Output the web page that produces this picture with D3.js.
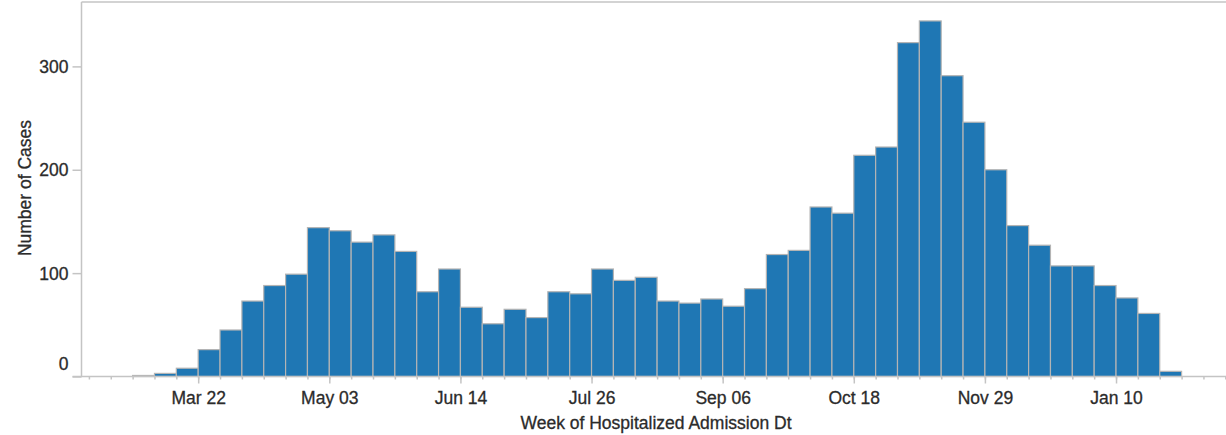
<!DOCTYPE html>
<html lang="en">
<head>
    <meta charset="UTF-8">
    <title>Weekly Hospitalized Cases</title>
    <style>
        body {
            margin: 0;
            padding: 0;
            background: #fff;
            font-family: "Liberation Sans", Arial, sans-serif;
        }
        #chart text {
            fill: #2b2b2b;
            stroke: #2b2b2b;
            stroke-width: 0.3px;
        }
    </style>
    <script src="https://d3js.org/d3.v7.min.js"></script>
</head>
<body>
<svg id="chart" width="1226" height="435"></svg>

<script>
    // week start dates (Sundays) and number of cases
    const weeks = [
        '2020-03-01', '2020-03-08', '2020-03-15', '2020-03-22', '2020-03-29',
        '2020-04-05', '2020-04-12', '2020-04-19', '2020-04-26', '2020-05-03',
        '2020-05-10', '2020-05-17', '2020-05-24', '2020-05-31', '2020-06-07',
        '2020-06-14', '2020-06-21', '2020-06-28', '2020-07-05', '2020-07-12',
        '2020-07-19', '2020-07-26', '2020-08-02', '2020-08-09', '2020-08-16',
        '2020-08-23', '2020-08-30', '2020-09-06', '2020-09-13', '2020-09-20',
        '2020-09-27', '2020-10-04', '2020-10-11', '2020-10-18', '2020-10-25',
        '2020-11-01', '2020-11-08', '2020-11-15', '2020-11-22', '2020-11-29',
        '2020-12-06', '2020-12-13', '2020-12-20', '2020-12-27', '2021-01-03',
        '2021-01-10', '2021-01-17', '2021-01-24'
    ];
    const cases = [
        1, 3, 8, 26, 45,
        73, 88, 99, 144, 141,
        130, 137, 121, 82, 104,
        67, 51, 65, 57, 82,
        80, 104, 93, 96, 73,
        71, 75, 68, 85, 118,
        122, 164, 158, 214, 222,
        323, 344, 291, 246, 200,
        146, 127, 107, 107, 88,
        76, 61, 5
    ];
    const labelTicks = ['2020-03-22', '2020-05-03', '2020-06-14', '2020-07-26', '2020-09-06',
                        '2020-10-18', '2020-11-29', '2021-01-10'];
    const yTicks = [0, 100, 200, 300];

    const parse = d3.utcParse('%Y-%m-%d');
    const data = weeks.map((w, i) => ({ week: parse(w), value: cases[i] }));

    const plotLeft = 81.5, plotRight = 1226, plotTop = 2, plotBottom = 376.5;
    const fontSize = 17.5;

    const xStart = new Date(Date.UTC(2020, 1, 13, 15));
    const xEnd = new Date(xStart.getTime() + 366.6 * 864e5);
    const x = d3.scaleUtc().domain([xStart, xEnd]).range([plotLeft, plotRight]);
    const y = d3.scaleLinear().domain([0, 362.3]).range([plotBottom, plotTop]);

    const svg = d3.select('#chart');
    const lineColor = '#c4c4c4';

    // bars
    svg.append('g')
        .selectAll('rect')
        .data(data)
        .join('rect')
        .attr('x', d => x(d.week))
        .attr('y', d => y(d.value))
        .attr('width', d => x(d3.utcWeek.offset(d.week, 1)) - x(d.week))
        .attr('height', d => plotBottom - y(d.value))
        .attr('fill', '#1f77b4')
        .attr('stroke', '#b4b4b4')
        .attr('stroke-width', 1.2);

    // frame top line
    svg.append('line')
        .attr('x1', plotLeft).attr('x2', plotRight)
        .attr('y1', plotTop).attr('y2', plotTop)
        .attr('stroke', lineColor).attr('stroke-width', 1.5);

    // y axis
    const yAxis = svg.append('g')
        .attr('transform', `translate(${plotLeft},0)`)
        .call(d3.axisLeft(y).tickValues(yTicks).tickSize(9).tickPadding(4).tickFormat(d3.format('d')));
    yAxis.select('.domain').remove();
    yAxis.selectAll('.tick line').attr('stroke', lineColor).attr('stroke-width', 1.5);
    yAxis.selectAll('.tick text')
        .attr('font-size', fontSize)
        .attr('font-family', '"Liberation Sans", Arial, sans-serif')
        .attr('dy', d => d === 0 ? '-0.4em' : '0.34em');
    svg.append('line')
        .attr('x1', plotLeft).attr('x2', plotLeft)
        .attr('y1', plotTop).attr('y2', plotBottom)
        .attr('stroke', lineColor).attr('stroke-width', 1.5);

    // x axis: weekly minor ticks, labelled every six weeks
    const xAxisMinor = svg.append('g')
        .attr('transform', `translate(0,${plotBottom})`)
        .call(d3.axisBottom(x).tickValues(d3.utcWeek.range(xStart, xEnd)).tickSize(3).tickFormat(''));
    xAxisMinor.select('.domain').remove();
    xAxisMinor.selectAll('.tick line').attr('stroke', lineColor).attr('stroke-width', 1.5);

    const xAxis = svg.append('g')
        .attr('transform', `translate(0,${plotBottom})`)
        .call(d3.axisBottom(x).tickValues(labelTicks.map(parse)).tickSize(7).tickPadding(8)
            .tickFormat(d3.utcFormat('%b %d')));
    xAxis.select('.domain').remove();
    xAxis.selectAll('.tick line').attr('stroke', lineColor).attr('stroke-width', 1.5);
    xAxis.selectAll('.tick text')
        .attr('font-size', fontSize)
        .attr('font-family', '"Liberation Sans", Arial, sans-serif');

    svg.append('line')
        .attr('x1', plotLeft - 9).attr('x2', plotRight)
        .attr('y1', plotBottom).attr('y2', plotBottom)
        .attr('stroke', lineColor).attr('stroke-width', 1.5);

    // axis titles
    svg.append('text')
        .attr('x', 656).attr('y', 429)
        .attr('text-anchor', 'middle')
        .attr('font-size', fontSize)
        .text('Week of Hospitalized Admission Dt');

    svg.append('text')
        .attr('transform', 'translate(31,188) rotate(-90)')
        .attr('text-anchor', 'middle')
        .attr('font-size', fontSize)
        .text('Number of Cases');
</script>
</body>
</html>
